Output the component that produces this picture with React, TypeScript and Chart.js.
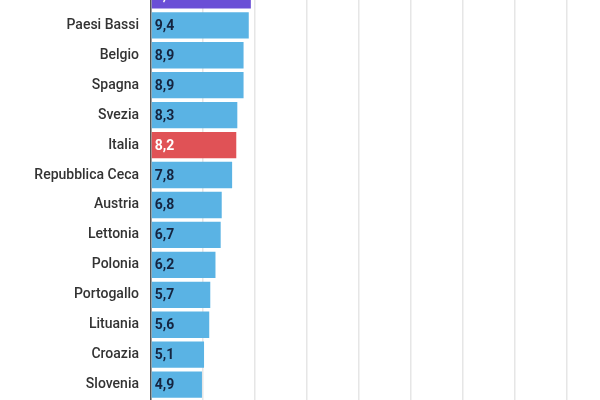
import React, { useEffect, useRef } from "react";
import { Chart, registerables } from "chart.js";

Chart.register(...registerables);

const categories = [
  "Media Ue",
  "Paesi Bassi",
  "Belgio",
  "Spagna",
  "Svezia",
  "Italia",
  "Repubblica Ceca",
  "Austria",
  "Lettonia",
  "Polonia",
  "Portogallo",
  "Lituania",
  "Croazia",
  "Slovenia",
];
const values = [9.6, 9.4, 8.9, 8.9, 8.3, 8.2, 7.8, 6.8, 6.7, 6.2, 5.7, 5.6, 5.1, 4.9];
const barColors = [
  "#6a4fd6",
  "#5ab3e4", "#5ab3e4", "#5ab3e4", "#5ab3e4",
  "#e05256",
  "#5ab3e4", "#5ab3e4", "#5ab3e4", "#5ab3e4", "#5ab3e4", "#5ab3e4", "#5ab3e4", "#5ab3e4",
];
const labelColors = [
  "#ffffff",
  "#15243f", "#15243f", "#15243f", "#15243f",
  "#ffffff",
  "#15243f", "#15243f", "#15243f", "#15243f", "#15243f", "#15243f", "#15243f", "#15243f",
];

const valueLabelPlugin = {
  id: "valueLabels",
  afterDatasetsDraw(chart: any) {
    const ctx = chart.ctx;
    const meta = chart.getDatasetMeta(0);
    ctx.save();
    ctx.font = "bold 14px Roboto";
    ctx.textAlign = "left";
    ctx.textBaseline = "middle";
    meta.data.forEach((bar: any, i: number) => {
      const txt = values[i].toFixed(1).replace(".", ",");
      ctx.fillStyle = labelColors[i];
      ctx.fillText(txt, bar.base + 3, bar.y + 1);
    });
    ctx.restore();
  },
};

export default function App() {
  const ref = useRef<HTMLCanvasElement | null>(null);
  useEffect(() => {
    if (!ref.current) return;
    const chart = new Chart(ref.current, {
      type: "bar",
      data: {
        labels: categories,
        datasets: [
          {
            data: values,
            backgroundColor: barColors,
            barPercentage: 0.88,
            categoryPercentage: 1,
            borderWidth: 0,
          },
        ],
      },
      options: {
        indexAxis: "y",
        animation: false,
        responsive: true,
        maintainAspectRatio: false,
        layout: { padding: { top: 14, bottom: 16, left: 0, right: 33 } },
        plugins: { legend: { display: false }, tooltip: { enabled: false } },
        scales: {
          x: {
            min: 0,
            max: 40,
            z: 1,
            ticks: { display: false, stepSize: 5 },
            grid: { color: "#e6e6e6", lineWidth: 1.5, drawTicks: false },
            border: { display: false },
          },
          y: {
            afterFit: (scale: any) => {
              scale.width = 151;
            },
            ticks: {
              padding: 12,
              color: "#333333",
              font: { family: "Roboto", size: 14, weight: 500 as any },
            },
            grid: { display: false, drawTicks: false },
            border: { display: true, color: "#555555", width: 1.5 },
          },
        },
      },
      plugins: [valueLabelPlugin],
    });
    return () => chart.destroy();
  }, []);

  return (
    <div
      style={{
        position: "absolute",
        top: 0,
        left: 0,
        width: 600,
        height: 400,
        overflow: "hidden",
        background: "#ffffff",
      }}
    >
      <div style={{ position: "absolute", top: -40, left: 0, width: 600, height: 460 }}>
        <canvas ref={ref} />
      </div>
    </div>
  );
}
